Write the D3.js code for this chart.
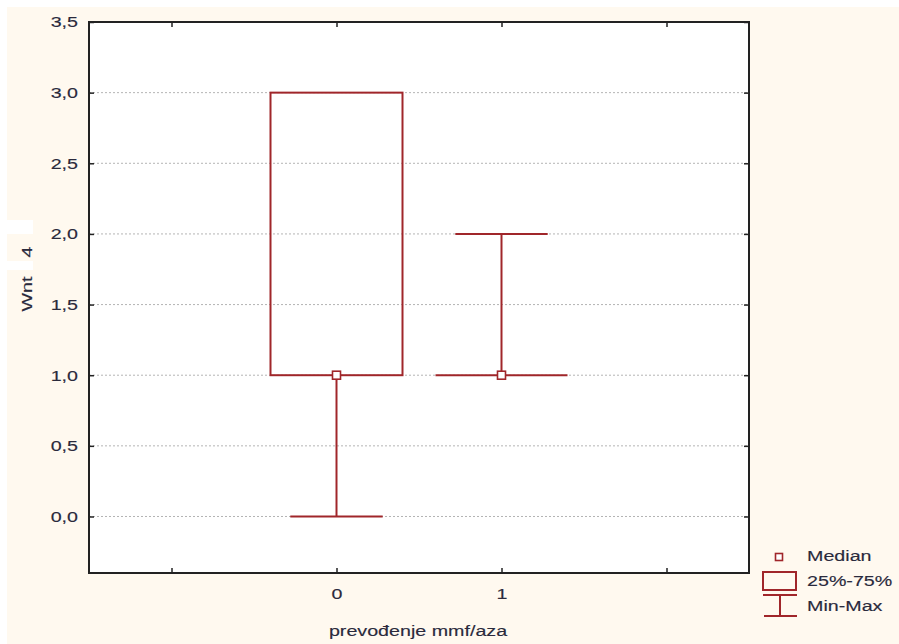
<!DOCTYPE html>
<html><head><meta charset="utf-8">
<script src="https://cdn.jsdelivr.net/npm/d3@7/dist/d3.min.js"></script>
<style>body{margin:0;background:#fff}svg text{font-family:"Liberation Sans",Arial,sans-serif;fill:#2a2a3c;stroke:#2a2a3c;stroke-width:0.15px}</style>
</head><body>
<script>
const categories = ["0", "1"];
const minVals = [0.0, 1.0];
const q1Vals = [1.0, 1.0];
const medianVals = [1.0, 1.0];
const q3Vals = [3.0, 1.0];
const maxVals = [3.0, 2.0];
const yTicks = [0.0, 0.5, 1.0, 1.5, 2.0, 2.5, 3.0, 3.5];
const xTickPositions = [-1, 0, 1, 2];
const legendLabels = ["Median", "25%-75%", "Min-Max"];
const xTitle = "prevođenje mmf/aza";
const yTitle = ["Wnt", "4"];

const W = 899, H = 644;
const FS = 15.5, SX = 1.27;
const red = "#a0262a";
const svg = d3.select("body").append("svg").attr("width", W).attr("height", H);
svg.append("rect").attr("x", 7).attr("y", 7).attr("width", W - 7).attr("height", H - 7).attr("fill", "#fff9ef");

function label(x, y, str, anchor, rot) {
  return svg.append("text")
    .attr("transform", `translate(${x},${y}) rotate(${rot || 0}) scale(${SX},1)`)
    .attr("text-anchor", anchor).attr("font-size", FS).text(str);
}

const L = 89, R = 749, T = 22, B = 573;
const y = d3.scaleLinear().domain([-0.4, 3.5]).range([B, T]);
const x = d3.scaleLinear().domain([-1.5, 2.5]).range([L, R]);
const fmt = d => d3.format(".1f")(d).replace(".", ",");

svg.append("rect").attr("x", L).attr("y", T).attr("width", R - L).attr("height", B - T).attr("fill", "#fff");

// grid
svg.append("g").selectAll("line").data(yTicks.filter(t => t < 3.5)).join("line")
  .attr("x1", L).attr("x2", R).attr("y1", d => y(d)).attr("y2", d => y(d))
  .attr("stroke", "#b4b4b4").attr("stroke-width", 1).attr("stroke-dasharray", "2,2");

// axes
const gl = svg.append("g").attr("transform", `translate(${L},0)`)
  .call(d3.axisLeft(y).tickValues(yTicks).tickSize(-5).tickPadding(11).tickFormat(fmt));
const gr = svg.append("g").attr("transform", `translate(${R},0)`)
  .call(d3.axisRight(y).tickValues(yTicks).tickSize(-5).tickFormat(""));
const gb = svg.append("g").attr("transform", `translate(0,${B})`)
  .call(d3.axisBottom(x).tickValues(xTickPositions).tickSize(-5).tickPadding(15)
    .tickFormat(d => (d >= 0 && d < categories.length) ? categories[d] : ""));
const gt = svg.append("g").attr("transform", `translate(0,${T})`)
  .call(d3.axisTop(x).tickValues(xTickPositions).tickSize(-5).tickFormat(""));
[gl, gr, gb, gt].forEach(g => {
  g.select(".domain").remove();
  g.selectAll(".tick line").attr("stroke", "#222").attr("stroke-width", 1.5);
  g.selectAll("text").attr("font-size", FS).attr("fill", "#2a2a3c")
    .attr("font-family", '"Liberation Sans",Arial,sans-serif')
    .attr("x", function () { const v = this.getAttribute("x"); return v === null ? null : +v / SX; })
    .attr("transform", `scale(${SX},1)`);
});
svg.append("rect").attr("x", L).attr("y", T).attr("width", R - L).attr("height", B - T)
  .attr("fill", "none").attr("stroke", "#222").attr("stroke-width", 2);

// boxes
const boxW = 0.8, capW = 0.56;
const g = svg.append("g").attr("stroke", red).attr("stroke-width", 2).attr("fill", "none");
categories.forEach((c, i) => {
  const cx = x(i);
  const bx0 = x(i - boxW / 2), bx1 = x(i + boxW / 2);
  const cx0 = x(i - capW / 2), cx1 = x(i + capW / 2);
  if (maxVals[i] > q3Vals[i]) {
    g.append("line").attr("x1", cx).attr("x2", cx).attr("y1", y(q3Vals[i])).attr("y2", y(maxVals[i]));
    g.append("line").attr("x1", cx0).attr("x2", cx1).attr("y1", y(maxVals[i])).attr("y2", y(maxVals[i]));
  }
  if (minVals[i] < q1Vals[i]) {
    g.append("line").attr("x1", cx).attr("x2", cx).attr("y1", y(q1Vals[i])).attr("y2", y(minVals[i]));
    g.append("line").attr("x1", cx0).attr("x2", cx1).attr("y1", y(minVals[i])).attr("y2", y(minVals[i]));
  }
  if (q3Vals[i] > q1Vals[i]) {
    g.append("rect").attr("x", bx0).attr("y", y(q3Vals[i])).attr("width", bx1 - bx0).attr("height", y(q1Vals[i]) - y(q3Vals[i]));
  } else {
    g.append("line").attr("x1", bx0).attr("x2", bx1).attr("y1", y(q1Vals[i])).attr("y2", y(q1Vals[i]));
  }
  g.append("rect").attr("x", cx - 4).attr("y", y(medianVals[i]) - 4).attr("width", 8).attr("height", 8)
    .attr("fill", "#fff").attr("stroke-width", 1.6);
});

// axis titles
label(418, 636, xTitle, "middle");
svg.append("rect").attr("x", 7).attr("y", 220).attr("width", 26).attr("height", 14).attr("fill", "#fff");
svg.append("rect").attr("x", 7).attr("y", 261).attr("width", 26).attr("height", 9).attr("fill", "#fff");
label(32, 294, yTitle[0], "middle", -90);
label(32, 252, yTitle[1], "middle", -90);

// legend
const lg = svg.append("g");
lg.append("rect").attr("x", 775.5).attr("y", 553.5).attr("width", 7).attr("height", 7).attr("fill", "#fff").attr("stroke", red).attr("stroke-width", 1.6);
lg.append("rect").attr("x", 763).attr("y", 572).attr("width", 33).attr("height", 18).attr("fill", "none").attr("stroke", red).attr("stroke-width", 2);
const wl = lg.append("g").attr("stroke", red).attr("stroke-width", 2);
wl.append("line").attr("x1", 763).attr("x2", 797).attr("y1", 595).attr("y2", 595);
wl.append("line").attr("x1", 780).attr("x2", 780).attr("y1", 595).attr("y2", 616);
wl.append("line").attr("x1", 764).attr("x2", 797).attr("y1", 616).attr("y2", 616);
legendLabels.forEach((d, i) => label(807, 561 + i * 25, d, "start"));
</script>
</body></html>
